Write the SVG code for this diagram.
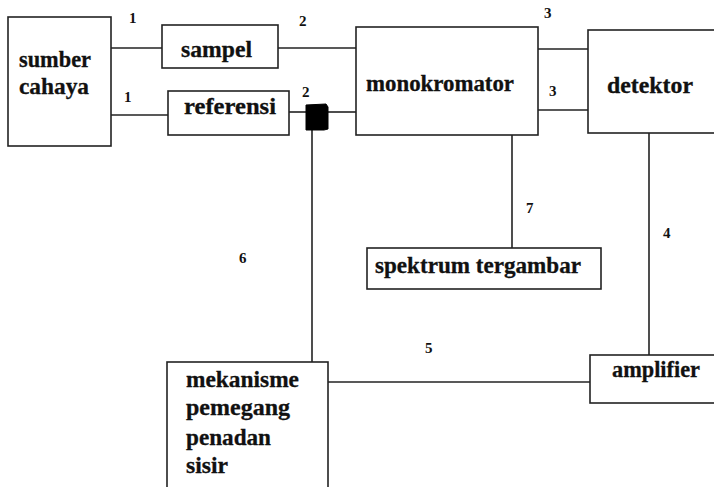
<svg xmlns="http://www.w3.org/2000/svg" width="714" height="487" viewBox="0 0 714 487">
<style>
.box{fill:#fff;stroke:#222;stroke-width:1.6}
.ln{stroke:#222;stroke-width:1.6;fill:none}
.t{font-family:'Liberation Serif','DejaVu Serif',serif;font-weight:700;font-size:23px;fill:#111;stroke:#111;stroke-width:0.3}
.n{font-family:'Liberation Serif','DejaVu Serif',serif;font-weight:700;font-size:15px;fill:#111}
</style>
<rect width="714" height="487" fill="#fff"/>
<g id="connectors">
<line class="ln" x1="111" y1="48" x2="162" y2="48"/>
<line class="ln" x1="278" y1="48" x2="356" y2="48"/>
<line class="ln" x1="111" y1="115" x2="168" y2="115"/>
<line class="ln" x1="289" y1="112" x2="306" y2="112"/>
<line class="ln" x1="327" y1="112" x2="356" y2="112"/>
<line class="ln" x1="538" y1="49" x2="588" y2="49"/>
<line class="ln" x1="538" y1="110" x2="588" y2="110"/>
<line class="ln" x1="512" y1="135" x2="512" y2="248"/>
<line class="ln" x1="649" y1="133" x2="649" y2="355"/>
<line class="ln" x1="312" y1="128" x2="312" y2="362"/>
<line class="ln" x1="328" y1="382" x2="590" y2="382"/>
<text class="n" x="129" y="23">1</text>
<text class="n" x="124" y="102">1</text>
<text class="n" x="299" y="26">2</text>
<text class="n" x="302" y="97">2</text>
<text class="n" x="544" y="18">3</text>
<text class="n" x="549" y="96">3</text>
<text class="n" x="663" y="238">4</text>
<text class="n" x="425" y="353">5</text>
<text class="n" x="239" y="263">6</text>
<text class="n" x="526" y="213">7</text>
</g>
<g id="sumber">
<rect class="box" x="8" y="17" width="103" height="129"/>
<text class="t" x="19" y="67" textLength="72" lengthAdjust="spacingAndGlyphs">sumber</text>
<text class="t" x="19" y="94" textLength="70" lengthAdjust="spacingAndGlyphs">cahaya</text>
</g>
<g id="sampel">
<rect class="box" x="162" y="25" width="116" height="43"/>
<text class="t" x="181" y="57" textLength="71" lengthAdjust="spacingAndGlyphs">sampel</text>
</g>
<g id="referensi">
<rect class="box" x="168" y="91" width="121" height="44"/>
<text class="t" x="184" y="114" textLength="92" lengthAdjust="spacingAndGlyphs">referensi</text>
</g>
<g id="chopper">
<path d="M306,105 L326,104 L328,107 L328,129 L324,130 L306,130 Z" fill="#000" stroke="#000" stroke-width="1"/>
</g>
<g id="monokromator">
<rect class="box" x="356" y="27" width="182" height="108"/>
<text class="t" x="366" y="91" textLength="148" lengthAdjust="spacingAndGlyphs">monokromator</text>
</g>
<g id="detektor">
<rect class="box" x="588" y="30" width="140" height="103"/>
<text class="t" x="607" y="93" textLength="86" lengthAdjust="spacingAndGlyphs">detektor</text>
</g>
<g id="spektrum">
<rect class="box" x="367" y="248" width="234" height="41"/>
<text class="t" x="375" y="273" textLength="206" lengthAdjust="spacingAndGlyphs">spektrum tergambar</text>
</g>
<g id="amplifier">
<rect class="box" x="590" y="355" width="140" height="48"/>
<text class="t" x="612" y="377" textLength="88" lengthAdjust="spacingAndGlyphs">amplifier</text>
</g>
<g id="mekanisme">
<rect class="box" x="167" y="362" width="161" height="140"/>
<text class="t" x="186" y="387" textLength="113" lengthAdjust="spacingAndGlyphs">mekanisme</text>
<text class="t" x="186" y="415" textLength="104" lengthAdjust="spacingAndGlyphs">pemegang</text>
<text class="t" x="186" y="445" textLength="85" lengthAdjust="spacingAndGlyphs">penadan</text>
<text class="t" x="186" y="473" textLength="42" lengthAdjust="spacingAndGlyphs">sisir</text>
</g>
</svg>
